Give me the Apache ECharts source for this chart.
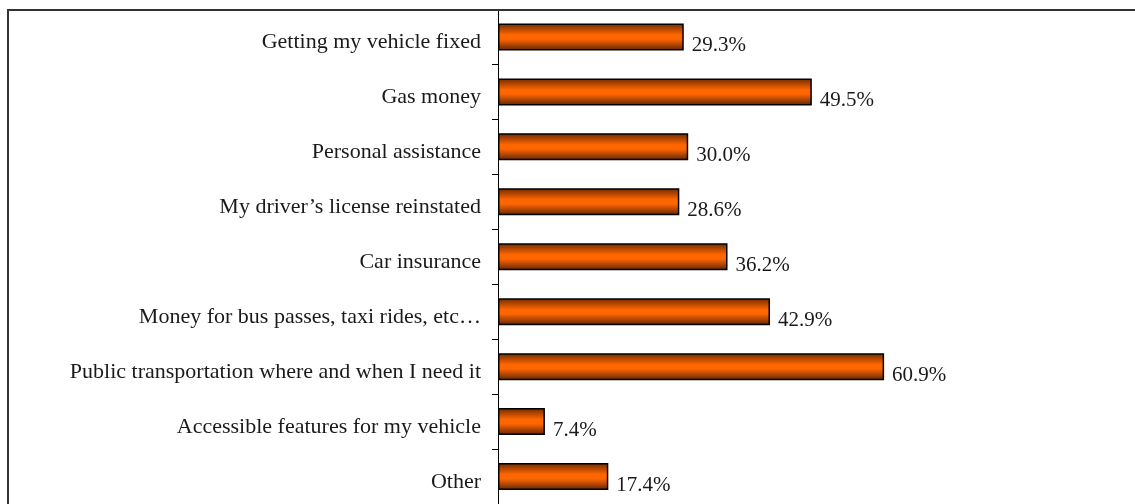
<!DOCTYPE html>
<html>
<head>
<meta charset="utf-8">
<script src="https://cdn.jsdelivr.net/npm/echarts@6/dist/echarts.min.js"></script>
<style>
  html, body { margin: 0; padding: 0; background: #ffffff; }
  #chart { width: 1135px; height: 504px; }
</style>
</head>
<body>
<div id="chart"></div>
<script>
// Categories listed bottom-to-top (ECharts category y axis draws first item at the bottom)
const categories = [
  "Other",
  "Accessible features for my vehicle",
  "Public transportation where and when I need it",
  "Money for bus passes, taxi rides, etc\u2026",
  "Car insurance",
  "My driver\u2019s license reinstated",
  "Personal assistance",
  "Gas money",
  "Getting my vehicle fixed"
];
const values = [17.4, 7.4, 60.9, 42.9, 36.2, 28.6, 30.0, 49.5, 29.3];

const chart = echarts.init(document.getElementById('chart'), null, { renderer: 'canvas' });

const barGradient = new echarts.graphic.LinearGradient(0, 0, 0, 1, [
  { offset: 0, color: '#6e2a00' },
  { offset: 0.42, color: '#ff6600' },
  { offset: 0.58, color: '#ff6600' },
  { offset: 1, color: '#5e2400' }
]);

chart.setOption({
  animation: false,
  backgroundColor: '#ffffff',
  textStyle: { fontFamily: '"Liberation Serif", "DejaVu Serif", serif' },
  graphic: [{
    type: 'rect',
    z: 100,
    silent: true,
    shape: { x: 8, y: 10, width: 1200, height: 600 },
    style: { fill: 'none', stroke: '#333333', lineWidth: 2 }
  }],
  grid: {
    left: 498,
    top: 9.5,
    width: 634,
    height: 495.5,
    containLabel: false
  },
  xAxis: {
    type: 'value',
    min: 0,
    max: 100,
    show: false
  },
  yAxis: {
    type: 'category',
    data: categories,
    axisLine: { show: true, lineStyle: { color: '#000000', width: 1 } },
    axisTick: { show: true, length: 6, lineStyle: { color: '#000000', width: 1 } },
    axisLabel: {
      color: '#1a1a1a',
      fontSize: 22,
      margin: 17,
      verticalAlign: 'top',
      lineHeight: 11,
      fontFamily: '"Liberation Serif", serif'
    },
    splitLine: { show: false }
  },
  series: [{
    type: 'bar',
    data: values,
    barWidth: 27,
    itemStyle: {
      color: barGradient,
      borderColor: '#000000',
      borderWidth: 1.5
    },
    label: {
      show: true,
      position: 'right',
      distance: 8,
      offset: [0, 9],
      color: '#1a1a1a',
      fontSize: 21,
      fontFamily: '"Liberation Serif", serif',
      formatter: function (p) { return p.value.toFixed(1) + '%'; }
    }
  }]
});
</script>
</body>
</html>
